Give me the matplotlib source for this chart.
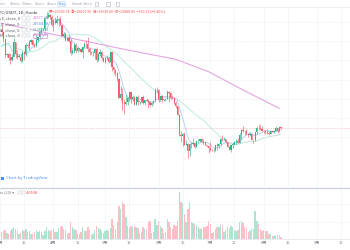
import numpy as np
import pandas as pd
import matplotlib
matplotlib.use('Agg')
import matplotlib.pyplot as plt
import matplotlib.dates as mdates
from matplotlib.patches import Rectangle
from matplotlib.lines import Line2D

plt.rcParams['font.family'] = ['Noto Sans CJK SC', 'DejaVu Sans']

# daily closes of Feb 1 - Mar 1, only used to warm up the moving averages
feb_close = [38740, 36950, 37150, 41570, 41380, 42410, 43840, 44110, 44340, 43570,
             42410, 42240, 42080, 42580, 44560, 43910, 40540, 40020, 40120, 38400,
             37010, 38250, 37280, 38350, 39250, 39100, 37720, 43180, 44440]

# visible candles, Mar 2 - Aug 11 2022
close = [43900, 42450, 39140, 39400, 38420, 38060, 38740, 41940, 39440, 38790,
         38810, 37780, 39670, 39280, 41120, 40920, 41760, 42200, 41260, 41000,
         42360, 42890, 43960, 44330, 44510, 46820, 47120, 47430, 47060, 45510,
         46280, 45810, 46400, 46580, 45500, 43170, 43440, 42250, 42750, 42150,
         39530, 40070, 41150, 39940, 40550, 40380, 39680, 40800, 41500, 41360,
         40480, 39710, 39450, 39450, 40430, 38110, 39240, 39740, 38600, 37640,
         38470, 38530, 37750, 39690, 36550, 36010, 35470, 34060, 30100, 31010,
         29080, 28940, 29280, 30080, 31310, 29860, 30420, 28720, 30310, 29200,
         29430, 30300, 29100, 29650, 29560, 29270, 28630, 29030, 29470, 31730, 31800,
         29800, 30450, 29700, 29860, 29910, 31370, 31130, 30210, 30110, 29090,
         28420, 26580, 22490, 22210, 22580, 20380, 20470, 19020, 20550, 20570,
         20720, 19970, 21090, 21230, 21500, 21030, 20730, 20280, 20100, 19780,
         19300, 19240, 19300, 20210, 20190, 20550, 21620, 21590, 21590, 20830,
         19960, 19320, 20210, 20580, 20830, 21190, 20780, 22480, 23390, 23230,
         23160, 22680, 22450, 22580, 21310, 21250, 22950, 23840, 23800, 23630, 23290,
         23270, 22980, 22820, 22620, 23310, 22960, 23180, 23810, 23150, 23990.74, 23880.89]
high = [45400, 44100, 42500, 39600, 39650, 39450, 39350, 42600, 41950, 40250,
        39350, 39300, 39900, 39880, 41700, 41480, 42320, 42400, 42300, 41540,
        43360, 42990, 44230, 45080, 44760, 46900, 48190, 48100, 47700, 47600,
        46700, 47180, 47430, 46870, 47200, 45500, 43890, 43950, 42790, 43420,
        42410, 40690, 41550, 41550, 40850, 40700, 40590, 40990, 41760, 42200,
        42980, 40790, 39990, 39920, 40600, 40790, 39460, 40370, 39920, 38790,
        38670, 39160, 38650, 39900, 39820, 36620, 36110, 35480, 34300, 32620,
        32180, 30000, 30970, 30290, 31430, 31400, 30760, 30650, 30520, 30750,
        29610, 30430, 30670, 29810, 30200, 29850, 29400, 29230, 29580, 32170, 32370,
        31970, 30650, 30700, 29950, 30160, 31760, 31550, 31310, 30690, 30370,
        29420, 28540, 26880, 23330, 22760, 22980, 21340, 20780, 20800, 21000,
        21720, 20860, 21200, 21520, 21580, 21850, 21510, 21180, 20390, 20140,
        20860, 19420, 19640, 20250, 20710, 20650, 21820, 22480, 21930, 21600,
        20850, 20030, 20240, 20880, 21170, 21580, 21680, 22720, 23750, 24280,
        23400, 23740, 22900, 22950, 22650, 21330, 23080, 24180, 24400, 24650, 24200,
        23480, 23450, 23620, 23210, 23440, 23350, 23380, 24220, 23930, 24150, 24100.90]
low = [43350, 41850, 38600, 38650, 38100, 37160, 37860, 38650, 38540, 38220,
       38660, 37600, 37580, 38120, 38910, 40540, 40130, 41530, 40910, 40500,
       40880, 41780, 42620, 43640, 44100, 44400, 46680, 46950, 46590, 45210,
       44250, 45530, 45540, 45130, 45360, 43100, 42740, 42120, 42120, 41870,
       39200, 39250, 39560, 39560, 39770, 40010, 39570, 38540, 40570, 40840,
       39760, 39190, 39310, 39000, 38200, 37700, 37870, 38880, 38180, 37600,
       37390, 38060, 37520, 37670, 35860, 35260, 34780, 33720, 30050, 29730,
       27700, 26700, 28720, 28630, 29500, 29100, 29460, 28660, 28700, 28750,
       28950, 29240, 28900, 28670, 29300, 28020, 28280, 28560, 28800, 29300, 31230,
       29350, 29580, 29290, 29480, 29500, 29880, 29230, 29880, 29950, 28860,
       28100, 26560, 22140, 20850, 20080, 20250, 20230, 17600, 17950, 19650,
       20360, 19770, 19890, 20730, 20900, 20960, 20520, 20200, 19850, 18630,
       18980, 18980, 18800, 19060, 19290, 19780, 20250, 21200, 21330, 20670,
       19870, 19250, 18920, 19620, 20370, 20500, 20760, 20760, 21650, 23060,
       22320, 22580, 21970, 22290, 21280, 20740, 21050, 22600, 23450, 23480, 23230,
       22880, 22660, 22700, 22430, 22590, 22940, 22850, 23150, 22870, 23100, 23630.00]
vol = [7, 8, 9, 6, 5, 8, 10, 12, 10, 8, 5, 6, 9, 8,
       10, 7, 8, 5, 5, 7, 9, 7, 8, 7, 4, 8, 12, 9,
       8, 9, 10, 7, 7, 11, 12, 13, 10, 9, 5, 6, 17, 12,
       10, 9, 5, 5, 7, 12, 8, 8, 12, 9, 4, 5, 9, 13,
       11, 10, 8, 6, 8, 9, 8, 11, 20, 14, 10, 17, 33, 30,
       37, 35, 22, 13, 11, 13, 12, 13, 12, 11, 6, 7, 12, 10,
       9, 17, 18, 6, 7, 20, 14, 18, 13, 11, 6, 7, 20, 17,
       12, 10, 14, 13, 18, 47, 37, 36, 25, 17, 30, 37, 17, 16,
       15, 14, 12, 10, 11, 12, 12, 13, 18, 15, 6, 7, 10, 12,
       12, 15, 14, 7, 9, 12, 11, 13, 12, 9, 8, 9, 17, 18,
       16, 12, 11, 7, 8, 10, 10, 28, 18, 15, 10, 8, 9, 8,
       8, 5, 5, 3, 3, 4, 4, 4, 2]

# long moving average
long_ma_dates = ['2022-03-02', '2022-04-05', '2022-05-10', '2022-06-11',
                 '2022-06-30', '2022-07-20', '2022-08-10']
long_ma_vals = [45760, 43130, 40470, 38230, 35640, 31810, 27980]

price_ticks = [22000, 26000, 30000, 34000, 38000, 42000, 46000]
time_ticks = ['2022-03-01', '2022-03-15', '2022-04-01', '2022-04-15', '2022-05-01',
              '2022-05-15', '2022-06-01', '2022-06-15', '2022-07-01', '2022-07-15',
              '2022-08-01', '2022-08-15', '2022-09-01', '2022-09-15']
time_labels = ['3月', '15', '4月', '15', '5月', '15', '6月', '15', '7月', '15',
               '8月', '15', '9月', '15']
toolbar = ['1min', '15min', '30min', '1hour', '4hour', '1day', '1week', '1mon']

UP = '#2bb38a'
DOWN = '#f0616d'
W, H = 350, 250


def fx(x):
    return x / W


def fy(y):
    return 1 - y / H


dates = pd.date_range('2022-03-02', periods=len(close))
dnum = mdates.date2num(dates)
all_close = pd.Series(feb_close + close)
opens = np.array(feb_close[-1:] + close[:-1])
closes = np.array(close)
up = closes >= opens

ma_fast = all_close.rolling(7).mean().values[len(feb_close):]
ma_mid = all_close.rolling(30).mean().values[len(feb_close):]

# px -> data: 1.732 px per day, Apr 1 sits at x=52
x0 = mdates.date2num(pd.Timestamp('2022-04-01')) - 52 / 1.732
xlim = (x0, x0 + W / 1.732)
ppx = 209.2
ylim = (48190 - (187 - 11.7) * ppx, 48190 + (11.7 - 8) * ppx)

fig = plt.figure(figsize=(3.5, 2.5), dpi=100)
fig.patch.set_facecolor('white')

ax = fig.add_axes([0, fy(187), 1, (187 - 8) / H])
axv = fig.add_axes([0, fy(239), 1, (239 - 188) / H])

grid_kw = dict(color='#e4e7ee', lw=0.5, ls=(0, (1, 1.2)))
for a in (ax, axv):
    a.set_xlim(*xlim)
    a.set_facecolor('white')
    for s in a.spines.values():
        s.set_visible(False)
    a.set_xticks(mdates.date2num(pd.to_datetime(time_ticks)))
    a.grid(True, **grid_kw)
    a.tick_params(length=0, labelleft=False, labelbottom=False)

ax.set_ylim(*ylim)
ax.set_yticks(price_ticks)

# candles
col = np.where(up, UP, DOWN)
ax.vlines(dnum, low, high, colors=col, lw=0.45, zorder=3)
body_h = np.maximum(np.abs(closes - opens), 60)
ax.bar(dnum, body_h, bottom=np.minimum(opens, closes), width=0.68,
       color=col, edgecolor='none', zorder=4)

ax.plot(dnum, ma_fast, color='#b4c9f3', lw=0.6, zorder=2)
ax.plot(dnum, ma_mid, color='#b3ead6', lw=0.6, zorder=2)
ax.plot(mdates.date2num(pd.to_datetime(long_ma_dates)), long_ma_vals,
        color='#e3a6e0', lw=0.8, zorder=2)
ax.axhline(close[-1], color='#f4a0a8', lw=0.5, ls=(0, (1, 1.5)), zorder=1)

# volume
axv.set_ylim(0, 51)
axv.set_yticks([17, 35])
axv.bar(dnum, vol, width=0.8, color=np.where(up, '#ade4d1', '#fac0c5'),
        edgecolor='none', zorder=3)
axv.spines['top'].set_visible(True)
axv.spines['top'].set_color('#cfd3dc')
axv.spines['top'].set_linewidth(1.0)
axv.spines['bottom'].set_visible(True)
axv.spines['bottom'].set_color('#e6e8ee')
axv.spines['bottom'].set_linewidth(0.6)
axv.tick_params(labelbottom=True, labelsize=3, labelcolor='#7b7f8a', pad=1.5)
axv.set_xticklabels(time_labels)

# toolbar
fig.add_artist(Line2D([0, 1], [fy(7), fy(7)], color='#eceef2', lw=0.6))
tb_x = [-3, 10, 22, 35, 47, 58, 72, 83]
for lab, x in zip(toolbar, tb_x):
    c = '#3f8ef0' if lab == '1day' else '#9a9ea8'
    fig.text(fx(x), fy(3.6), lab, fontsize=2.6, color=c, va='center')
fig.add_artist(Rectangle((fx(56.5), fy(6.3)), fx(8.5), 5.2 / H, transform=fig.transFigure,
                         facecolor='none', edgecolor='#b8d3f5', lw=0.4))
for x in (95, 106, 116):
    fig.add_artist(Rectangle((fx(x), fy(5.5)), fx(3.5), 3.5 / H, transform=fig.transFigure,
                             facecolor='none', edgecolor='#b0b4bd', lw=0.4))

# legend rows
fig.text(fx(-4), fy(12.5), 'BTC/USDT, 1D, Huobi', fontsize=3.0, color='#2a2e39', va='center')
fig.text(fx(49), fy(12.5), '开=23990.74  高=24100.90  低=23630.00  收=23880.89  −110.17 (−0.46%)',
         fontsize=2.6, color='#ef5350', va='center')
rows = [('MA 5, close, 0', '23977.38', '#d870d6', 18),
        ('MA 10, close, 0', '23544.38', '#5b8def', 24),
        ('MA 30, close, 0', '22389.91', '#39bf8c', 30),
        ('MA 120, close, 0', '28040.16', '#c77ad0', 35.5)]
for lab, val, c, y in rows:
    fig.text(fx(20), fy(y), lab, fontsize=2.9, color='#50535e', va='center', ha='right')
    for bx in (22.5, 26.5):
        fig.add_artist(Rectangle((fx(bx), fy(y + 1.5)), fx(3), 3 / H, transform=fig.transFigure,
                                 facecolor='white', edgecolor='#c4c7ce', lw=0.3))
    fig.text(fx(33), fy(y), val, fontsize=2.8, color=c, va='center')
fig.add_artist(Rectangle((fx(32.5), fy(37.5)), fx(14), 4 / H, transform=fig.transFigure,
                         facecolor='none', edgecolor='#c77ad0', lw=0.4))

# watermark link
fig.add_artist(Rectangle((fx(1), fy(179.5)), fx(2.5), 2.5 / H, transform=fig.transFigure,
                         facecolor='#4a8fe7', edgecolor='none'))
fig.text(fx(6), fy(178), 'Chart by TradingView', fontsize=3.0, color='#4a8fe7', va='center')

# volume legend
fig.text(fx(14), fy(192.5), 'Volume (20) ▾', fontsize=2.8, color='#7b7f8a', va='center', ha='right')
for bx in (17.5, 21.5):
    fig.add_artist(Rectangle((fx(bx), fy(194)), fx(3), 3 / H, transform=fig.transFigure,
                             facecolor='white', edgecolor='#c4c7ce', lw=0.3))
fig.text(fx(26), fy(192.5), '4.053K', fontsize=2.8, color='#ef5350', va='center')

fig.savefig('out.png', dpi=100)
